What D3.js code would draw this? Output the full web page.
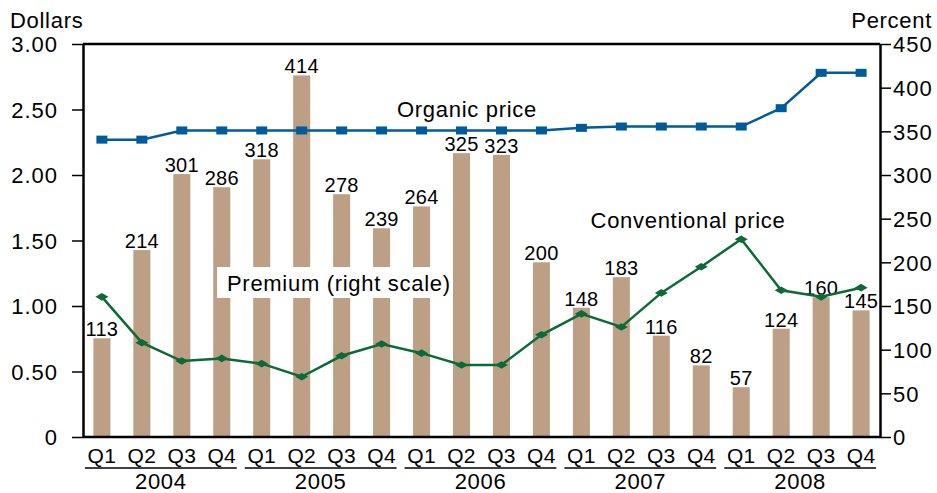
<!DOCTYPE html>
<meta charset="utf-8">
<script src="https://d3js.org/d3.v7.min.js"></script>
<style>
  body { margin: 0; background: #fff; }
  text { font-family: "Liberation Sans", Arial, Helvetica, sans-serif; fill: #000; letter-spacing: 0.7px; }
</style>
<div id="chart"></div>
<script>

// data
var years = ["2004", "2005", "2006", "2007", "2008"];
var quarters = ["Q1", "Q2", "Q3", "Q4"];
var premium = [113, 214, 301, 286, 318, 414, 278, 239, 264, 325, 323, 200, 148, 183, 116, 82, 57, 124, 160, 145];
var organic = [2.27, 2.27, 2.34, 2.34, 2.34, 2.34, 2.34, 2.34, 2.34, 2.34, 2.34, 2.34, 2.36, 2.37, 2.37, 2.37, 2.37, 2.51, 2.78, 2.78];
var conventional = [1.07, 0.72, 0.58, 0.60, 0.56, 0.46, 0.62, 0.71, 0.64, 0.55, 0.55, 0.78, 0.94, 0.84, 1.10, 1.30, 1.51, 1.12, 1.07, 1.14];
var dollarTicks = [0, 0.5, 1, 1.5, 2, 2.5, 3];
var percentTicks = [0, 50, 100, 150, 200, 250, 300, 350, 400, 450];

var W = 937, H = 493;
var plotL = 83, plotR = 880, plotT = 44, plotB = 437;

var periods = [];
years.forEach(function(y) { quarters.forEach(function(q) { periods.push(y + q); }); });

var svg = d3.select("#chart").append("svg")
    .attr("width", W)
    .attr("height", H);

var x = d3.scaleBand()
    .domain(periods)
    .range([plotL, plotR])
    .paddingInner(0.574)
    .paddingOuter(0.26);

var yL = d3.scaleLinear().domain([0, 3]).range([plotB, plotT]);
var yR = d3.scaleLinear().domain([0, 450]).range([plotB, plotT]);

var bw = x.bandwidth();
var step = x.step();
function cx(i) { return x(periods[i]) + bw / 2; }

// bars
svg.append("g")
  .selectAll("rect")
  .data(premium)
  .enter().append("rect")
    .attr("x", function(d, i) { return x(periods[i]); })
    .attr("y", function(d) { return yR(d); })
    .attr("width", bw)
    .attr("height", function(d) { return yR(0) - yR(d); })
    .attr("fill", "#bd9f85");

// bar value labels
svg.append("g")
  .selectAll("text")
  .data(premium)
  .enter().append("text")
    .attr("x", function(d, i) { return cx(i); })
    .attr("y", function(d) { return yR(d) - 2; })
    .attr("text-anchor", "middle")
    .style("font-size", "20px")
    .style("letter-spacing", "0.3px")
    .text(function(d) { return d; });

// premium label with white box
svg.append("rect")
    .attr("x", 217).attr("y", 267)
    .attr("width", 236).attr("height", 31)
    .attr("fill", "#fff");
svg.append("text")
    .attr("x", 227).attr("y", 291)
    .style("font-size", "22px")
    .text("Premium (right scale)");

// axes
var axL = svg.append("g")
    .attr("transform", "translate(" + plotL + ",0)")
    .call(d3.axisLeft(yL).tickValues(dollarTicks).tickSize(11).tickSizeOuter(0).tickPadding(14)
      .tickFormat(function(d) { return d === 0 ? "0" : d.toFixed(2); }));
var axR = svg.append("g")
    .attr("transform", "translate(" + plotR + ",0)")
    .call(d3.axisRight(yR).tickValues(percentTicks).tickSize(11).tickSizeOuter(0).tickPadding(2));
[axL, axR].forEach(function(a) {
  a.select(".domain").attr("stroke", "#000").attr("stroke-width", 2.5);
  a.selectAll(".tick line").attr("stroke", "#000").attr("stroke-width", 1.5);
  a.selectAll(".tick text").style("font-size", "22px").attr("dy", "0.36em")
    .style("font-family", "'Liberation Sans', Arial, sans-serif")
    .style("letter-spacing", "1px");
});

// top frame and baseline
svg.append("line")
    .attr("x1", plotL).attr("x2", plotR)
    .attr("y1", yL(3)).attr("y2", yL(3))
    .attr("stroke", "#000").attr("stroke-width", 2.5);
svg.append("line")
    .attr("x1", plotL).attr("x2", plotR)
    .attr("y1", yL(0)).attr("y2", yL(0))
    .attr("stroke", "#000").attr("stroke-width", 2.5);

// quarter labels
svg.append("g")
  .selectAll("text")
  .data(periods)
  .enter().append("text")
    .attr("x", function(d, i) { return cx(i); })
    .attr("y", 463)
    .attr("text-anchor", "middle")
    .style("font-size", "21px")
    .style("letter-spacing", "0.3px")
    .text(function(d) { return d.slice(4); });

// year groups
years.forEach(function(y, j) {
  var x1 = cx(j * 4) - step / 2 + 3,
      x2 = cx(j * 4 + 3) + step / 2 - 5;
  svg.append("line")
      .attr("x1", x1).attr("x2", x2)
      .attr("y1", 468).attr("y2", 468)
      .attr("stroke", "#000").attr("stroke-width", 1.7);
  svg.append("text")
      .attr("x", (x1 + x2) / 2)
      .attr("y", 489)
      .attr("text-anchor", "middle")
      .style("font-size", "22px")
      .text(y);
});

// organic price line
var lineL = d3.line()
    .x(function(d, i) { return cx(i); })
    .y(function(d) { return yL(d); });

svg.append("path")
    .datum(organic)
    .attr("d", lineL)
    .attr("fill", "none")
    .attr("stroke", "#005b9a")
    .attr("stroke-width", 2.5);
svg.append("g")
  .selectAll("rect")
  .data(organic)
  .enter().append("rect")
    .attr("x", function(d, i) { return cx(i) - 5.5; })
    .attr("y", function(d) { return yL(d) - 4; })
    .attr("width", 11)
    .attr("height", 8)
    .attr("fill", "#005b9a");

// conventional price line
svg.append("path")
    .datum(conventional)
    .attr("d", lineL)
    .attr("fill", "none")
    .attr("stroke", "#0b6b37")
    .attr("stroke-width", 2.5);
svg.append("g")
  .selectAll("path")
  .data(conventional)
  .enter().append("path")
    .attr("transform", function(d, i) { return "translate(" + cx(i) + "," + yL(d) + ")"; })
    .attr("d", "M-6.5,0L0,-3.8L6.5,0L0,3.8Z")
    .attr("fill", "#0b6b37");

// line labels
svg.append("text")
    .attr("x", 467).attr("y", 117)
    .attr("text-anchor", "middle")
    .style("font-size", "22px")
    .text("Organic price");
svg.append("text")
    .attr("x", 688).attr("y", 228)
    .attr("text-anchor", "middle")
    .style("font-size", "22px")
    .text("Conventional price");

// axis titles
svg.append("text")
    .attr("x", 10).attr("y", 28)
    .style("font-size", "22px")
    .text("Dollars");
svg.append("text")
    .attr("x", 932).attr("y", 28)
    .attr("text-anchor", "end")
    .style("font-size", "22px")
    .text("Percent");

</script>
